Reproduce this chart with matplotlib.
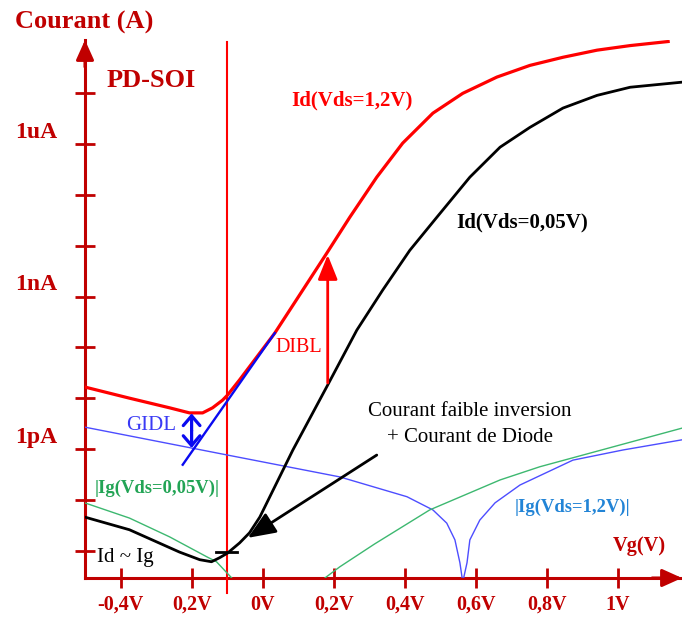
import numpy as np
import matplotlib
matplotlib.use('Agg')
import matplotlib.pyplot as plt
from matplotlib.ticker import NullLocator
from matplotlib.transforms import blended_transform_factory

plt.rcParams['font.family'] = ['Liberation Serif', 'DejaVu Serif']

# ---------------- data (Vg in V, log10 of current in A) ----------------
vg_id12 = [-0.501, -0.375, -0.262, -0.206, -0.169, -0.141, -0.113, -0.099, -0.065,
           0.034, 0.180, 0.245, 0.321, 0.394, 0.479, 0.563, 0.659, 0.752, 0.845,
           0.941, 1.034, 1.141]
log_id12 = [-10.78, -11.00, -11.19, -11.29, -11.29, -11.19, -11.04, -10.94, -10.64,
            -9.72, -8.15, -7.44, -6.65, -5.98, -5.39, -5.00, -4.68, -4.45, -4.29,
            -4.15, -4.06, -3.98]

vg_id005 = [-0.501, -0.375, -0.234, -0.177, -0.144, -0.121, -0.099, -0.065, -0.037,
            -0.008, 0.085, 0.180, 0.265, 0.338, 0.414, 0.490, 0.583, 0.668, 0.752,
            0.845, 0.941, 1.034, 1.180]
log_id005 = [-13.34, -13.59, -14.03, -14.18, -14.22, -14.14, -14.05, -13.85, -13.65,
             -13.34, -12.02, -10.78, -9.66, -8.87, -8.09, -7.44, -6.65, -6.06, -5.67,
             -5.29, -5.04, -4.88, -4.78]

vg_ig12 = [-0.501, -0.099, 0.217, 0.406, 0.479, 0.518, 0.541, 0.555, 0.563,
           0.575, 0.583, 0.611, 0.654, 0.724, 0.873, 1.014, 1.180]
log_ig12 = [-11.57, -12.12, -12.55, -12.94, -13.20, -13.46, -13.79, -14.24, -14.62,
            -14.24, -13.79, -13.40, -13.06, -12.71, -12.22, -12.02, -11.82]

vg_ig005 = [-0.501, -0.375, -0.262, -0.158, -0.130, -0.087, -0.070, np.nan,
            0.155, 0.175, 0.217, 0.315, 0.470, 0.668, 0.780, 1.180]
log_ig005 = [-13.06, -13.36, -13.73, -14.12, -14.22, -14.54, -14.77, np.nan,
             -14.77, -14.54, -14.32, -13.87, -13.20, -12.61, -12.35, -11.59]

# tangent (subthreshold slope extrapolation)
vg_tangent = [-0.225, 0.034]
log_tangent = [-12.31, -9.72]

x_ticks = [-0.4, -0.2, 0.0, 0.2, 0.4, 0.6, 0.8, 1.0]
x_ticklabels = ['-0,4V', '0,2V', '0V', '0,2V', '0,4V', '0,6V', '0,8V', '1V']
y_tick_exps = list(range(-14, -4))
y_label_exps = [-12, -9, -6]
y_labels = ['1pA', '1nA', '1uA']

DARK = '#C00000'
RED = '#FF0000'
GREEN = '#3DB870'
BLUE_THIN = '#4D4DFF'
BLUE = '#0A0AF0'


def p(v):
    return np.power(10.0, np.asarray(v, dtype=float))


fig = plt.figure(figsize=(6.82, 6.17), dpi=100)
ax = fig.add_axes([85 / 682, 39 / 617, 597 / 682, 538 / 617])
ax.set_yscale('log')
ax.set_xlim(-0.5, 1.18)
ax.set_ylim(10 ** -14.54, 10 ** -3.95)

for s in ['top', 'right']:
    ax.spines[s].set_visible(False)
for s in ['left', 'bottom']:
    ax.spines[s].set_color(DARK)
    ax.spines[s].set_linewidth(2.2)
    ax.spines[s].set_zorder(1)

ax.set_yticks(p(y_tick_exps))
ax.set_yticklabels([])
ax.yaxis.set_minor_locator(NullLocator())
ax.set_xticks(x_ticks)
ax.set_xticklabels(x_ticklabels, fontsize=14.5, fontweight='bold', color=DARK)
ax.tick_params(axis='both', which='major', direction='inout', length=14,
               width=2, color=DARK)
ax.tick_params(axis='x', pad=5)

# axis arrows
ap = dict(arrowstyle='-|>,head_length=0.6,head_width=0.27', mutation_scale=20,
          color=DARK, lw=2.2, shrinkA=0, shrinkB=0)
ax.annotate('', xy=(1.0, 0.0), xytext=(0.95, 0.0), xycoords='axes fraction',
            arrowprops=ap, annotation_clip=False)
ax.annotate('', xy=(0.0, 1.0), xytext=(0.0, 0.95), xycoords='axes fraction',
            arrowprops=ap, annotation_clip=False)

# y labels
bt = blended_transform_factory(ax.transAxes, ax.transData)
for e, lab in zip(y_label_exps, y_labels):
    ax.text(-0.047, 10 ** (e + 0.23), lab, transform=bt, ha='right', va='center',
            fontsize=17, fontweight='bold', color=DARK)

# vertical marker line
ax.axvline(-0.1, ymin=-0.028, ymax=0.996, clip_on=False, color=RED, lw=1.5, zorder=2)

# curves
ax.plot(vg_ig12, p(log_ig12), color=BLUE_THIN, lw=1.0, zorder=3)
ax.plot(vg_ig005, p(log_ig005), color=GREEN, lw=1.0, zorder=3)
ax.plot(vg_id005, p(log_id005), color='black', lw=2.0, zorder=4, solid_joinstyle='round')
ax.plot(vg_id12, p(log_id12), color=RED, lw=2.3, zorder=4, solid_joinstyle='round')
ax.plot(vg_tangent, p(log_tangent), color=BLUE, lw=1.7, zorder=5)

# small horizontal mark on black curve
ax.plot([-0.130, -0.073], p([-14.03, -14.03]), color='black', lw=2.0, zorder=5)

# GIDL double arrow (open chevrons)
gidl_ap = dict(arrowstyle='->,head_length=0.35,head_width=0.3', mutation_scale=20,
               color=BLUE, lw=2.3, shrinkA=0, shrinkB=0)
ax.annotate('', xy=(-0.2, 10 ** -11.30), xytext=(-0.2, 10 ** -11.64),
            arrowprops=gidl_ap, zorder=6)
ax.annotate('', xy=(-0.2, 10 ** -11.98), xytext=(-0.2, 10 ** -11.64),
            arrowprops=gidl_ap, zorder=6)
# DIBL arrow
ax.annotate('', xy=(0.183, 10 ** -8.18), xytext=(0.183, 10 ** -10.70),
            arrowprops=dict(arrowstyle='-|>,head_length=0.75,head_width=0.3',
                            mutation_scale=20, color=RED, lw=2.0,
                            shrinkA=0, shrinkB=0), zorder=6)
# black pointer arrow
ax.annotate('', xy=(-0.042, 10 ** -13.75), xytext=(0.321, 10 ** -12.12),
            arrowprops=dict(arrowstyle='-|>,head_length=0.85,head_width=0.35',
                            mutation_scale=20, color='black', lw=2.0,
                            shrinkA=0, shrinkB=0), zorder=6)

# texts
fig.text(15 / 682, 1 - 22 / 617, 'Courant (A)', ha='left', va='center',
         fontsize=19, fontweight='bold', color=DARK)
ax.text(-0.439, 10 ** -4.74, 'PD-SOI', ha='left', va='center', fontsize=19,
        fontweight='bold', color=DARK)
ax.text(0.079, 10 ** -5.14, 'Id(Vds=1,2V)', ha='left', va='center', fontsize=15,
        fontweight='bold', color=RED)
ax.text(0.546, 10 ** -7.54, 'Id(Vds=0,05V)', ha='left', va='center', fontsize=15,
        fontweight='bold', color='black')
ax.text(0.037, 10 ** -10.01, 'DIBL', ha='left', va='center', fontsize=14.5, color=RED)
ax.text(-0.383, 10 ** -11.53, 'GIDL', ha='left', va='center', fontsize=15,
        color='#3A3AF5')
ax.text(-0.473, 10 ** -12.77, '|Ig(Vds=0,05V)|', ha='left', va='center',
        fontsize=13.4, fontweight='bold', color='#22A455')
ax.text(-0.465, 10 ** -14.14, 'Id ~ Ig', ha='left', va='center', fontsize=15,
        color='black')
ax.text(0.583, 10 ** -11.27, 'Courant faible inversion', ha='center', va='center',
        fontsize=15, color='black')
ax.text(0.583, 10 ** -11.78, '+ Courant de Diode', ha='center', va='center',
        fontsize=15, color='black')
ax.text(0.710, 10 ** -13.14, '|Ig(Vds=1,2V)|', ha='left', va='center',
        fontsize=13.4, fontweight='bold', color='#2284D6')
ax.text(0.986, 10 ** -13.91, 'Vg(V)', ha='left', va='center', fontsize=14.7,
        fontweight='bold', color=DARK)

fig.savefig('out.png', dpi=100)
